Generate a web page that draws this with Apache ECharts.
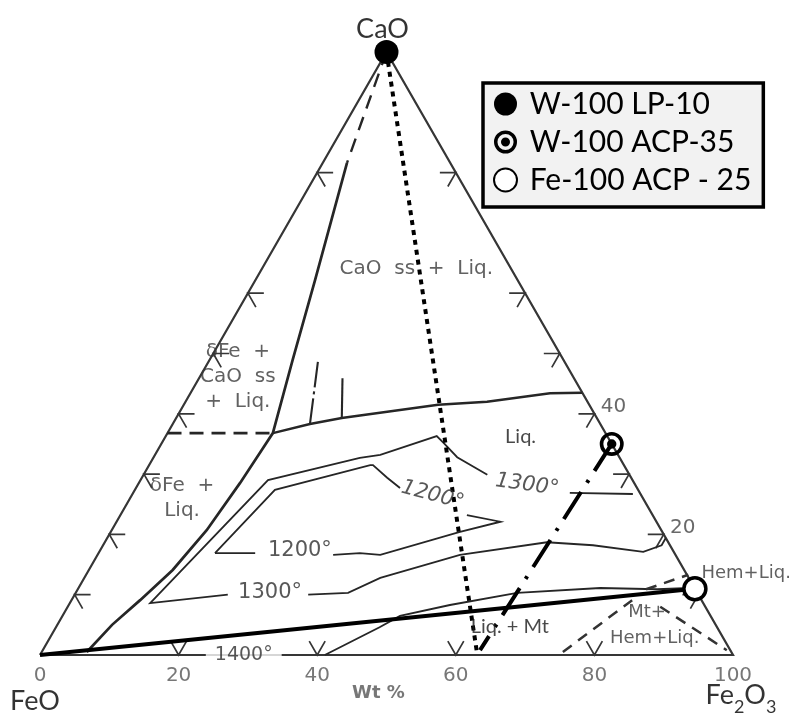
<!DOCTYPE html>
<html>
<head>
<meta charset="utf-8">
<script src="https://cdn.jsdelivr.net/npm/echarts/dist/echarts.min.js"></script>
<style>
html, body { margin: 0; padding: 0; background: #fff; }
#chart { width: 796px; height: 713px; }
</style>
</head>
<body>
<div id="chart"></div>
<script>
// All compositions are [Fe2O3 wt%, CaO wt%]; FeO is the balance to 100.

// Triangle and its composition ticks
const triangleEdge = [[0, 0], [100, 0], [0, 100], [0, 0]];
const sideTicksCaO = [10, 20, 30, 40, 50, 60, 80];
const baseTicksFe2O3 = [20, 40, 60, 80];
const baseTickLabels = [0, 20, 40, 60, 80, 100];
const sideTickLabels = [40, 20];

// Phase boundaries
const cassBoundaryDashed = [[0, 100], [3.5, 81.6]];
const cassBoundary = [[3.5, 81.6], [8.6, 62.2], [12.0, 48.9], [15.2, 36.8], [15.0, 34.0], [14.6, 28.5],
  [13.7, 20.7], [12.1, 14.1], [9.9, 9.1], [7.9, 5.0], [6.5, 0.5]];
const threePhaseLine = [[0, 36.8], [15.2, 36.8]];
const cassLiquidus = [[15.2, 36.8], [19.8, 38.3], [23.9, 39.3], [36.7, 41.5], [43.5, 42.0], [51.9, 43.4], [56.5, 43.5]];
const spurDashed = [[19.8, 38.3], [15.8, 48.6]];
const spurSolid = [[23.9, 39.3], [20.7, 45.9]];
const mtLiquidus = [[41.1, 0], [46.7, 4.6], [48.7, 6.5], [55.0, 8.3], [63.7, 10.3], [75.3, 11.1], [83.6, 10.9], [88.2, 11.1]];
const hemLiqBoundary = [[82.0, 10.9], [86.9, 13.3]];
const mtHemLeft = [[75.2, 0.5], [80.9, 9.1]];
const mtHemRight = [[85.5, 8.0], [98.7, 0.8]];

// Isotherms (pieces split where the temperature is written)
const iso1300 = [
  [[72.2, 26.7], [63.0, 26.9]],
  [[49.6, 29.9], [43.8, 32.8], [40.6, 35.2], [39.1, 36.3], [32.5, 33.2], [29.8, 32.7], [18.4, 29.0], [11.6, 8.6], [22.1, 10.0]],
  [[33.7, 10.0], [39.3, 10.3], [42.7, 12.8], [52.3, 16.6], [63.8, 18.7], [70.7, 18.2], [78.5, 17.1], [80.6, 18.2], [80.6, 19.4]]
];
const iso1200 = [
  [[16.8, 16.9], [20.2, 27.4], [31.9, 31.5], [32.3, 31.5], [35.4, 29.4], [38.1, 27.7]],
  [[50.0, 23.2], [55.4, 22.1], [50.4, 20.4], [40.8, 16.6], [37.7, 16.9], [34.0, 16.6]],
  [[22.6, 16.9], [16.8, 16.9]]
];

// Samples and their paths
const sampleLP10 = [0, 100];
const sampleACP35 = [65, 35];
const sampleFeACP25 = [89, 11];
const lp10PathEnd = [62.6, 0.8];
const acp35PathEnd = [63.1, 0.8];
const feOrigin = [0, 0];

// Field and isotherm annotations
const fieldLabels = [
  { text: 'CaO  ss  +  Liq.', at: [22.3, 64.0], kind: 'scan' },
  { text: 'δFe  +\nCaO  ss\n+  Liq.', at: [5.5, 46.1], kind: 'scan' },
  { text: 'δFe  +\nLiq.', at: [7.5, 26.0], kind: 'scan' },
  { text: 'Liq.', at: [51.2, 36.3], kind: 'note' },
  { text: 'Liq. + Mt', at: [65.4, 4.8], kind: 'note' },
  { text: 'Mt+', at: [84.1, 7.0], kind: 'small' },
  { text: 'Hem+Liq.', at: [87.3, 2.8], kind: 'small' },
  { text: 'Hem+Liq.', at: [95.1, 13.6], kind: 'small' }
];
const isothermLabels = [
  { text: '1300°', at: [56.2, 28.2], rotate: -8, italic: true },
  { text: '1200°', at: [43.4, 26.5], rotate: -15, italic: true },
  { text: '1200°', at: [28.8, 17.4] },
  { text: '1300°', at: [28.0, 10.4] },
  { text: '1400°', at: [29.4, 0], cut: true }
];

// ternary -> cartesian (x along the FeO–Fe2O3 side, y = CaO)
const toXY = p => [p[0] + p[1] / 2, p[1]];

const SCAN_FONT = 'DejaVu Sans';
const SCAN_COLOR = '#3a3a3a';
const tickLen = 2.3;

const tickSegs = [];
sideTicksCaO.forEach(c => {
  tickSegs.push([[tickLen, c], [0, c], [tickLen, c - tickLen]]);
  tickSegs.push([[100 - c - tickLen, c], [100 - c, c], [100 - c, c - tickLen]]);
});
baseTicksFe2O3.forEach(f => tickSegs.push([[f - tickLen, tickLen], [f, 0], [f, tickLen]]));

function lines(segs, style, z) {
  return {
    type: 'lines', coordinateSystem: 'cartesian2d', polyline: true, silent: true,
    z: z || 2, animation: false,
    data: segs.map(s => ({ coords: s.map(toXY) })),
    lineStyle: Object.assign({ opacity: 1, curveness: 0, color: '#262626' }, style)
  };
}

const ringDot = 'path://M12,0 A12,12 0 1,1 11.99,0 Z M12,3.6 A8.4,8.4 0 1,0 12.01,3.6 Z M12,7.3 A4.7,4.7 0 1,1 11.99,7.3 Z';

// text items placed in composition space
const textData = [];
fieldLabels.forEach(t => {
  const base = { show: true, position: 'inside', formatter: t.text, align: 'center', verticalAlign: 'middle' };
  if (t.kind === 'scan') Object.assign(base, { fontFamily: SCAN_FONT, fontSize: 20, lineHeight: 25, color: SCAN_COLOR });
  if (t.kind === 'small') Object.assign(base, { fontFamily: SCAN_FONT, fontSize: 18, color: SCAN_COLOR });
  if (t.kind === 'note') Object.assign(base, { fontFamily: 'Lato', fontSize: 20, color: '#1a1a1a' });
  textData.push({ value: toXY(t.at), label: base });
});
isothermLabels.forEach(t => {
  textData.push({
    value: toXY(t.at),
    label: {
      show: true, position: 'inside', formatter: t.text, rotate: t.rotate || 0,
      fontFamily: SCAN_FONT, fontSize: t.cut ? 19 : 21, fontStyle: t.italic ? 'italic' : 'normal',
      color: '#2e2e2e', backgroundColor: t.cut ? '#fff' : 'transparent', padding: t.cut ? [1, 9] : 0
    }
  });
});
baseTickLabels.forEach(v => {
  textData.push({ value: toXY([v, 0]), label: { show: true, position: 'inside', formatter: String(v), offset: [0, 21],
    fontFamily: SCAN_FONT, fontSize: 20, color: '#555' } });
});
sideTickLabels.forEach(c => {
  textData.push({ value: toXY([100 - c, c]), label: { show: true, position: 'inside', formatter: String(c), offset: [19, -7],
    fontFamily: SCAN_FONT, fontSize: 20, color: '#444' } });
});
textData.push({ value: toXY([50, 0]), label: { show: true, position: 'inside', formatter: 'Wt %', offset: [-8, 38],
  fontFamily: SCAN_FONT, fontSize: 18, fontWeight: 'bold', color: '#555' } });
// corner components
const cornerStyle = { show: true, position: 'inside', fontFamily: 'Lato', fontSize: 27, color: '#000' };
textData.push({ value: toXY([0, 100]), label: Object.assign({}, cornerStyle, { formatter: 'CaO', offset: [-4, -23] }) });
textData.push({ value: toXY([0, 0]), label: Object.assign({}, cornerStyle, { formatter: 'FeO', offset: [-5, 46] }) });
textData.push({ value: toXY([100, 0]), label: Object.assign({}, cornerStyle, {
  formatter: '{a|Fe}{s|2}{a|O}{s|3}', offset: [8, 44],
  rich: { a: { fontFamily: 'Lato', fontSize: 27, color: '#000', verticalAlign: 'bottom', padding: [0, 0, 8, 0] },
          s: { fontFamily: 'Lato', fontSize: 18, color: '#000', verticalAlign: 'bottom' } } }) });

const option = {
  animation: false,
  backgroundColor: '#fff',
  grid: { left: 5.35, right: 7.56, top: 3.76, bottom: 9.76, containLabel: false },
  xAxis: { type: 'value', min: -5, max: 108, show: false },
  yAxis: { type: 'value', min: -8, max: 108, show: false },
  legend: {
    orient: 'vertical', left: 483, top: 83, padding: [6, 12, 12, 10], itemGap: 8,
    itemWidth: 23, itemHeight: 23, selectedMode: false,
    backgroundColor: '#f2f2f2', borderColor: '#000', borderWidth: 3.5, borderRadius: 0,
    textStyle: { fontFamily: 'Lato', fontSize: 30, color: '#000', lineHeight: 30 },
    formatter: n => ' ' + n,
    data: [
      { name: 'W-100 LP-10', icon: 'circle' },
      { name: 'W-100 ACP-35', icon: ringDot },
      { name: 'Fe-100 ACP - 25', icon: 'circle' }
    ]
  },
  series: [
    lines([triangleEdge], { color: '#363636', width: 2.2 }, 2),
    lines(tickSegs, { color: '#363636', width: 1.7 }, 2),
    lines([cassBoundaryDashed], { width: 2.4, type: [14, 9] }, 3),
    lines([cassBoundary], { width: 2.7 }, 3),
    lines([threePhaseLine], { width: 2.7, type: [14, 8] }, 3),
    lines([cassLiquidus], { width: 2.5 }, 3),
    lines([spurDashed], { width: 2.1, type: [26, 4, 3, 4] }, 3),
    lines([spurSolid], { width: 2.1 }, 3),
    lines(iso1300, { width: 1.8 }, 3),
    lines(iso1200, { width: 1.8 }, 3),
    lines([mtLiquidus], { width: 1.9 }, 3),
    lines([hemLiqBoundary, mtHemLeft, mtHemRight], { width: 2.5, type: [11, 8], color: '#333' }, 3),
    lines([[sampleLP10, lp10PathEnd]], { width: 4, type: [5, 5], color: '#000' }, 5),
    lines([[sampleACP35, acp35PathEnd]], { width: 4, type: [32, 11, 3, 11], color: '#000' }, 5),
    lines([[feOrigin, sampleFeACP25]], { width: 4, color: '#000' }, 5),
    {
      name: 'W-100 LP-10', type: 'scatter', z: 10, symbol: 'circle', symbolSize: 24,
      itemStyle: { color: '#000', opacity: 1 }, data: [toXY(sampleLP10)]
    },
    {
      name: 'W-100 ACP-35', type: 'scatter', z: 10, symbol: ringDot, symbolSize: 24,
      itemStyle: { color: '#000', opacity: 1 }, data: [toXY(sampleACP35)]
    },
    {
      name: 'Fe-100 ACP - 25', type: 'scatter', z: 10, symbol: 'circle', symbolSize: 22,
      itemStyle: { color: '#fff', borderColor: '#000', borderWidth: 3.5, opacity: 1 }, data: [toXY(sampleFeACP25)]
    },
    {
      type: 'scatter', z: 8, silent: true, clip: false, symbol: 'circle', symbolSize: 1,
      itemStyle: { color: 'rgba(0,0,0,0)' }, data: textData
    }
  ]
};

const chart = echarts.init(document.getElementById('chart'), null, { renderer: 'canvas' });
chart.setOption(option);
</script>
</body>
</html>
